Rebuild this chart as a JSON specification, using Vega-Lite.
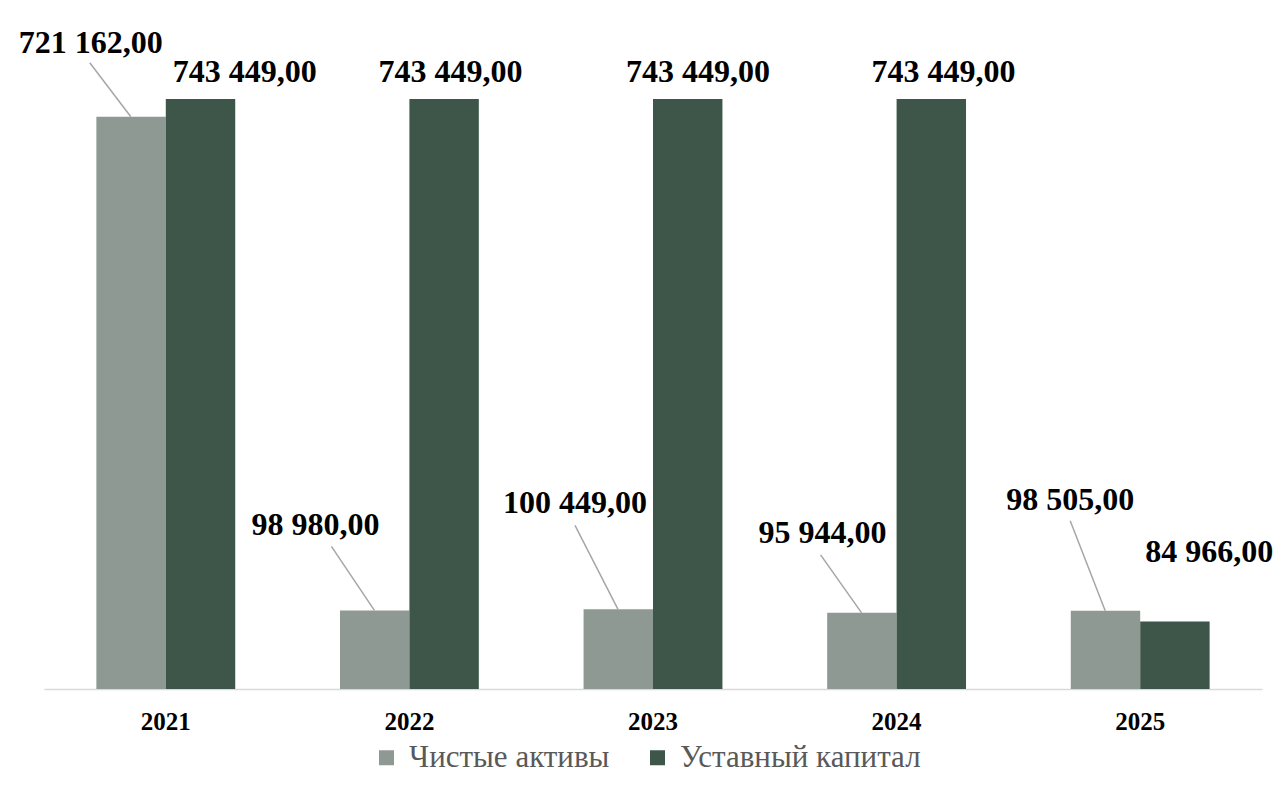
{
  "$schema": "https://vega.github.io/schema/vega-lite/v6.json",
  "width": 1218,
  "height": 669,
  "autosize": {"type": "none"},
  "padding": {"left": 44, "top": 20, "right": 23, "bottom": 107},
  "background": "white",
  "config": {
    "font": "Times New Roman, Liberation Serif, serif",
    "view": {"stroke": null},
    "locale": {"number": {"decimal": ",", "thousands": " ", "grouping": [3], "currency": ["", ""]}},
    "mark": {"font": "Times New Roman, Liberation Serif, serif"},
    "text": {"font": "Times New Roman, Liberation Serif, serif", "fontWeight": "bold", "fontSize": 32, "color": "#000000", "align": "center", "baseline": "alphabetic"}
  },
  "data": {
    "values": [
      {"year": "2021", "series": "Чистые активы", "value": 721162},
      {"year": "2021", "series": "Уставный капитал", "value": 743449},
      {"year": "2022", "series": "Чистые активы", "value": 98980},
      {"year": "2022", "series": "Уставный капитал", "value": 743449},
      {"year": "2023", "series": "Чистые активы", "value": 100449},
      {"year": "2023", "series": "Уставный капитал", "value": 743449},
      {"year": "2024", "series": "Чистые активы", "value": 95944},
      {"year": "2024", "series": "Уставный капитал", "value": 743449},
      {"year": "2025", "series": "Чистые активы", "value": 98505},
      {"year": "2025", "series": "Уставный капитал", "value": 84966}
    ]
  },
  "encoding": {
    "x": {
      "field": "year", "type": "nominal", "title": null,
      "scale": {"paddingInner": 0.43, "paddingOuter": 0.215},
      "axis": {
        "labelAngle": 0, "ticks": false, "labelPadding": 20,
        "labelFont": "Times New Roman, Liberation Serif, serif", "labelFontWeight": "bold", "labelFontSize": 25, "labelColor": "#000000",
        "domainColor": "#D9D9D9", "domainWidth": 1.5
      }
    },
    "y": {
      "field": "value", "type": "quantitative", "title": null,
      "scale": {"domain": [0, 843000], "nice": false},
      "axis": null
    }
  },
  "layer": [
    {
      "mark": {"type": "bar"},
      "encoding": {
        "xOffset": {"field": "series", "type": "nominal", "sort": ["Чистые активы", "Уставный капитал"], "scale": {"paddingInner": 0, "paddingOuter": 0}},
        "color": {
          "field": "series", "type": "nominal",
          "sort": ["Чистые активы", "Уставный капитал"],
          "scale": {"domain": ["Чистые активы", "Уставный капитал"], "range": ["#8F9993", "#3D5649"]},
          "legend": {
            "title": null, "orient": "none", "direction": "horizontal", "legendX": 327, "legendY": 722,
            "symbolType": "square", "symbolSize": 225, "symbolStrokeWidth": 0,
            "labelFont": "Times New Roman, Liberation Serif, serif", "labelFontSize": 31, "labelColor": "#595959",
            "labelLimit": 0, "labelOffset": 7, "columnPadding": 32
          }
        }
      }
    },
    {
      "transform": [{"filter": "datum.series == 'Чистые активы'"}, {"filter": "datum.year == '2021'"}],
      "mark": {"type": "rule", "color": "#A6A6A6", "strokeWidth": 1.5, "xOffset": -35, "x2Offset": -76, "y2Offset": -54},
      "encoding": {"x2": {"field": "year"}, "y2": {"field": "value"}}
    },
    {
      "transform": [{"filter": "datum.series == 'Чистые активы'"}, {"filter": "datum.year == '2022'"}],
      "mark": {"type": "rule", "color": "#A6A6A6", "strokeWidth": 1.5, "xOffset": -35, "x2Offset": -78, "y2Offset": -64},
      "encoding": {"x2": {"field": "year"}, "y2": {"field": "value"}}
    },
    {
      "transform": [{"filter": "datum.series == 'Чистые активы'"}, {"filter": "datum.year == '2023'"}],
      "mark": {"type": "rule", "color": "#A6A6A6", "strokeWidth": 1.5, "xOffset": -35, "x2Offset": -78, "y2Offset": -84},
      "encoding": {"x2": {"field": "year"}, "y2": {"field": "value"}}
    },
    {
      "transform": [{"filter": "datum.series == 'Чистые активы'"}, {"filter": "datum.year == '2024'"}],
      "mark": {"type": "rule", "color": "#A6A6A6", "strokeWidth": 1.5, "xOffset": -35, "x2Offset": -76, "y2Offset": -58},
      "encoding": {"x2": {"field": "year"}, "y2": {"field": "value"}}
    },
    {
      "transform": [{"filter": "datum.series == 'Чистые активы'"}, {"filter": "datum.year == '2025'"}],
      "mark": {"type": "rule", "color": "#A6A6A6", "strokeWidth": 1.5, "xOffset": -35, "x2Offset": -70, "y2Offset": -90},
      "encoding": {"x2": {"field": "year"}, "y2": {"field": "value"}}
    },
    {
      "transform": [{"filter": "datum.series == 'Чистые активы'"}, {"filter": "datum.year == '2021'"}],
      "mark": {"type": "text", "font": "Times New Roman, Liberation Serif, serif", "dx": -75, "dy": -64},
      "encoding": {"text": {"field": "value", "type": "quantitative", "format": ",.2f"}}
    },
    {
      "transform": [{"filter": "datum.series == 'Чистые активы'"}, {"filter": "datum.year == '2022'"}],
      "mark": {"type": "text", "font": "Times New Roman, Liberation Serif, serif", "dx": -94, "dy": -75},
      "encoding": {"text": {"field": "value", "type": "quantitative", "format": ",.2f"}}
    },
    {
      "transform": [{"filter": "datum.series == 'Чистые активы'"}, {"filter": "datum.year == '2023'"}],
      "mark": {"type": "text", "font": "Times New Roman, Liberation Serif, serif", "dx": -78, "dy": -96},
      "encoding": {"text": {"field": "value", "type": "quantitative", "format": ",.2f"}}
    },
    {
      "transform": [{"filter": "datum.series == 'Чистые активы'"}, {"filter": "datum.year == '2024'"}],
      "mark": {"type": "text", "font": "Times New Roman, Liberation Serif, serif", "dx": -74, "dy": -70},
      "encoding": {"text": {"field": "value", "type": "quantitative", "format": ",.2f"}}
    },
    {
      "transform": [{"filter": "datum.series == 'Чистые активы'"}, {"filter": "datum.year == '2025'"}],
      "mark": {"type": "text", "font": "Times New Roman, Liberation Serif, serif", "dx": -70, "dy": -101},
      "encoding": {"text": {"field": "value", "type": "quantitative", "format": ",.2f"}}
    },
    {
      "transform": [{"filter": "datum.series == 'Уставный капитал'"}, {"filter": "datum.year == '2021'"}],
      "mark": {"type": "text", "font": "Times New Roman, Liberation Serif, serif", "dx": 79, "dy": -17},
      "encoding": {"text": {"field": "value", "type": "quantitative", "format": ",.2f"}}
    },
    {
      "transform": [{"filter": "datum.series == 'Уставный капитал'"}, {"filter": "datum.year == '2022'"}],
      "mark": {"type": "text", "font": "Times New Roman, Liberation Serif, serif", "dx": 41, "dy": -17},
      "encoding": {"text": {"field": "value", "type": "quantitative", "format": ",.2f"}}
    },
    {
      "transform": [{"filter": "datum.series == 'Уставный капитал'"}, {"filter": "datum.year == '2023'"}],
      "mark": {"type": "text", "font": "Times New Roman, Liberation Serif, serif", "dx": 45, "dy": -17},
      "encoding": {"text": {"field": "value", "type": "quantitative", "format": ",.2f"}}
    },
    {
      "transform": [{"filter": "datum.series == 'Уставный капитал'"}, {"filter": "datum.year == '2024'"}],
      "mark": {"type": "text", "font": "Times New Roman, Liberation Serif, serif", "dx": 47, "dy": -17},
      "encoding": {"text": {"field": "value", "type": "quantitative", "format": ",.2f"}}
    },
    {
      "transform": [{"filter": "datum.series == 'Уставный капитал'"}, {"filter": "datum.year == '2025'"}],
      "mark": {"type": "text", "font": "Times New Roman, Liberation Serif, serif", "dx": 69, "dy": -60},
      "encoding": {"text": {"field": "value", "type": "quantitative", "format": ",.2f"}}
    }
  ]
}
